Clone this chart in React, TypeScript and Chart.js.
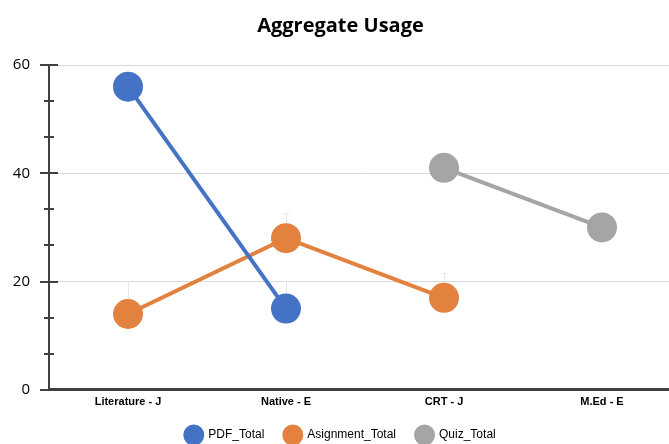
import React, { useEffect, useRef } from "react";
import { Chart, registerables } from "chart.js";

Chart.register(...registerables);

const categories = ["Literature - J", "Native - E", "CRT - J", "M.Ed - E"];
const pdfTotal = [56, 15, null, null];
const assignmentTotal = [14, 28, 17, null];
const quizTotal = [null, null, 41, 30];
const yTicks = [0, 20, 40, 60];
// faint upper error bars (amounts above the value)
const pdfErr = [null, 5, null, null];
const assignmentErr = [6, 4.5, 4.5, null];

const crossTicks = {
  id: "crossTicks",
  afterDraw(chart: any) {
    const y = chart.scales.y;
    const ctx = chart.ctx;
    const x0 = chart.chartArea.left;
    ctx.save();
    ctx.strokeStyle = "#404040";
    ctx.lineWidth = 2;
    const step = 20 / 3;
    for (let v = 0; v <= 60 + 0.001; v += step) {
      const isMajor = Math.abs(v / 20 - Math.round(v / 20)) < 0.01;
      const py = Math.round(y.getPixelForValue(v));
      ctx.beginPath();
      if (isMajor) {
        ctx.moveTo(x0 - 9, py);
        ctx.lineTo(x0 + 9, py);
      } else {
        ctx.moveTo(x0 - 5, py);
        ctx.lineTo(x0 + 5, py);
      }
      ctx.stroke();
    }
    ctx.restore();
  },
};

const errorBars = {
  id: "errorBars",
  beforeDatasetsDraw(chart: any) {
    const ctx = chart.ctx;
    const x = chart.scales.x;
    const y = chart.scales.y;
    const sets: [(number | null)[], (number | null)[]][] = [
      [pdfTotal, pdfErr],
      [assignmentTotal, assignmentErr],
    ];
    ctx.save();
    ctx.strokeStyle = "#E6E6E6";
    ctx.lineWidth = 1;
    sets.forEach(([vals, errs]) => {
      vals.forEach((v, i) => {
        const e = errs[i];
        if (v == null || e == null) return;
        const px = Math.round(x.getPixelForValue(i)) + 0.5;
        const top = y.getPixelForValue(v + e);
        const base = y.getPixelForValue(v);
        ctx.beginPath();
        ctx.moveTo(px, base);
        ctx.lineTo(px, top);
        ctx.moveTo(px - 3, top);
        ctx.lineTo(px + 3, top);
        ctx.stroke();
      });
    });
    ctx.restore();
  },
};

export default function App() {
  const ref = useRef<HTMLCanvasElement>(null);
  useEffect(() => {
    if (!ref.current) return;
    const mk = (label: string, data: (number | null)[], color: string) => ({
      label,
      data,
      borderColor: color,
      backgroundColor: color,
      pointBackgroundColor: color,
      pointBorderColor: color,
      borderWidth: 4,
      pointRadius: 13,
      pointHoverRadius: 13,
      spanGaps: false,
      tension: 0,
    });
    const chart = new Chart(ref.current, {
      type: "line",
      data: {
        labels: categories,
        datasets: [
          mk("PDF_Total", pdfTotal, "#4472C4"),
          mk("Asignment_Total", assignmentTotal, "#E3813F"),
          mk("Quiz_Total", quizTotal, "#A5A5A5"),
        ],
      },
      options: {
        animation: false,
        responsive: false,
        maintainAspectRatio: false,
        layout: { autoPadding: false, padding: { left: 0, right: 0, top: 0, bottom: -7 } },
        plugins: {
          title: {
            display: true,
            text: "Aggregate Usage",
            color: "#000",
            font: { family: "Open Sans", size: 20, weight: "bold" },
            padding: { top: 14, bottom: 27 },
          },
          legend: {
            position: "bottom",
            labels: {
              usePointStyle: true,
              pointStyle: "circle",
              boxHeight: 12,
              pointStyleWidth: 17,
              padding: 20,
              color: "#000",
              font: { family: "Liberation Sans Narrow, Liberation Sans", size: 12 },
            },
          },
          tooltip: { enabled: false },
        },
        scales: {
          x: {
            offset: true,
            afterFit: (s: any) => {
              s.height -= 6;
            },
            grid: { display: false, drawTicks: false },
            border: { display: true, color: "#404040", width: 3 },
            ticks: {
              color: "#000",
              padding: 6,
              font: { family: "Liberation Sans Narrow, Liberation Sans", size: 11, weight: "bold" },
            },
          },
          y: {
            min: 0,
            max: 60,
            afterFit: (s: any) => {
              s.width = 49;
            },
            afterBuildTicks: (s: any) => {
              s.ticks = yTicks.map((v) => ({ value: v }));
            },
            grid: { color: "#D9D9D9", lineWidth: 1, drawTicks: false },
            border: { display: true, color: "#404040", width: 2 },
            ticks: {
              color: "#000",
              padding: 19,
              font: { family: "Open Sans", size: 15 },
            },
          },
        },
      },
      plugins: [crossTicks, errorBars],
    });
    return () => chart.destroy();
  }, []);
  return (
    <div style={{ position: "fixed", left: 0, top: 0, width: 669, height: 444, overflow: "hidden", background: "#fff" }}>
      <canvas ref={ref} width={681} height={444} style={{ display: "block", width: 681, height: 444 }} />
    </div>
  );
}
